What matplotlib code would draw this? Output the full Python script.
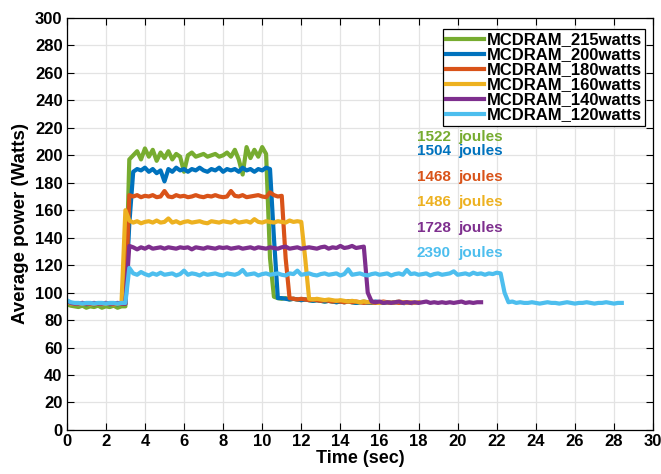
import numpy as np
import matplotlib
matplotlib.use('Agg')
import matplotlib.pyplot as plt

# power traces, one sample every 0.2 s starting at t=0
dt = 0.2

p215 = ([91.5, 90.5, 90, 89.5, 90.5, 89, 90, 89.5, 90.5, 89, 90, 89.5, 90.5, 89, 90, 90]
        + [197]
        + [200, 203, 197, 205, 199, 204, 196, 202, 198, 203, 197, 201, 199, 188, 200,
           202, 199, 200, 201, 199, 200, 201, 199, 200, 202, 199, 204, 197, 186, 206,
           198, 204, 199, 206, 201]
        + [125, 97]
        + [96, 95.5, 96, 95, 95.5, 95, 94.5, 95, 94.5, 94, 94.5, 94, 93.5, 94, 93.5, 93,
           93.5, 93, 93.5, 93, 92.5, 93, 93.5, 93, 92.5, 93, 93, 92.5, 93, 92.5, 93])

p200 = ([93, 92, 92, 91.5, 92, 91.5, 92, 91.5, 92, 91.5, 92, 91.5, 92, 91.5, 92, 92]
        + [150]
        + [188, 190, 189, 191, 188, 190, 187, 189, 181, 190, 188, 191, 189, 190, 188,
           190, 189, 191, 189, 188, 190, 189, 191, 188, 190, 189, 190, 188, 191, 189,
           190, 188, 190, 189, 191, 190]
        + [140, 96]
        + [96, 95.5, 95, 95.5, 95, 94.5, 95, 94.5, 94, 94.5, 94, 93.5, 94, 93.5, 93, 93.5,
           93, 93.5, 93, 92.5, 93, 93, 92.5, 93, 93.5, 93, 92.5, 93, 92.5, 93, 93, 92.5])

p180 = ([93.5, 92.5, 92, 92, 92.5, 92, 92, 91.5, 92, 92, 92.5, 92, 91.5, 92, 92, 92]
        + [171]
        + [170, 171, 169.5, 170.5, 170, 171, 169.5, 170, 174, 170, 169.5, 171, 170, 170.5,
           169.5, 170, 171, 170, 169.5, 170.5, 170, 171, 170, 169.5, 170, 174, 170.5, 170,
           171, 169.5, 170, 170.5, 171, 170, 169.5, 173, 171, 170, 170.5]
        + [125, 96]
        + [95.5, 95, 95.5, 95, 94.5, 95, 94.5, 94, 94.5, 94, 93.5, 94, 93.5, 93, 93.5, 93,
           93.5, 93, 92.5, 93, 93, 92.5, 93, 93.5, 93, 92.5, 93, 92.5, 93, 93, 92.5])

p160 = ([93, 92, 92, 91.5, 92, 92, 91.5, 92, 92, 91.5, 92, 92, 91.5, 92, 92]
        + [160]
        + [152.5, 151, 152, 150.5, 151.5, 152, 151, 152.5, 151, 151.5, 154, 151, 152, 150.5,
           151.5, 152, 151, 151.5, 152, 151, 150.5, 152, 151.5, 151, 152, 151.5, 151, 152.5,
           151, 151.5, 152, 151, 153.5, 151.5, 151, 152, 151.5, 151, 152, 151.5, 151, 152.5,
           151.5, 152, 151.5]
        + [125, 95.5]
        + [95, 95.5, 95, 94.5, 95, 94.5, 94, 94.5, 94, 93.5, 94, 93.5, 93, 93.5, 93, 93.5,
           93, 92.5, 93, 93, 92.5, 93, 93.5, 93, 92.5, 93, 92.5, 93])

p140 = ([94, 92.5, 92, 92, 92.5, 92, 92, 92.5, 92, 92, 92.5, 92, 92, 92.5, 92, 92]
        + [134]
        + [133, 131.5, 133, 132, 133.5, 132, 132.5, 133, 132, 133,
           132.5, 132, 133, 132.5, 133, 131.5, 133, 132.5, 132, 133,
           132.5, 132, 133, 132.5, 133, 132, 132.5, 133, 132, 132.5,
           133, 132, 133, 132.5, 132, 133, 132.5, 132, 133, 133.5,
           132, 132.5, 133, 132, 132.5, 133, 132.5, 132, 133, 133.5,
           132, 133, 132.5, 134, 132.5, 133, 134, 132.5, 133, 133.5]
        + [100, 93.5]
        + [93, 93.5, 92.5, 93, 92.5, 93, 93.5, 92.5, 93, 92.5, 93, 92.5, 93, 93.5, 92.5,
           93, 92.5, 93, 92.5, 93, 92.5, 93, 93.5, 92.5, 93, 92.5, 93, 93])

p120 = ([94.5, 93, 92.5, 92.5, 92, 92.5, 92.5, 92, 92.5, 92.5, 92, 92.5, 92.5, 92, 92.5, 92.5]
        + [118]
        + [114, 113, 115, 113.5, 112.5, 114, 113, 114.5, 113, 113.5,
           114, 112.5, 113.5, 116, 113, 114, 113.5, 112.5, 114, 113,
           113.5, 114, 113, 112.5, 114, 113.5, 113, 114, 116.5, 113,
           113.5, 114, 112.5, 113.5, 114, 113, 113.5, 114, 113, 112.5,
           114, 113.5, 116, 113, 113.5, 114, 113, 112.5, 113.5, 114,
           113, 113.5, 114, 112.5, 113.5, 117, 113, 113.5, 114, 113,
           112.5, 113.5, 114, 113, 113.5, 114, 112.5, 113.5, 114, 113,
           116.5, 113.5, 114, 113, 113.5, 114, 112.5, 113.5, 114, 113,
           113.5, 114, 115.5, 113, 113.5, 114, 113, 114.5, 113.5, 114,
           113, 114, 113.5, 114.5, 114]
        + [100, 93]
        + [93.5, 92.5, 93, 92.5, 92.5, 93, 92.5, 92, 92.5, 93, 92.5, 92.5, 92, 92.5, 93,
           92.5, 92, 92.5, 92.5, 93, 92.5, 92, 92.5, 92.5, 93, 92.5, 92, 92.5, 92.5])

labels = ['MCDRAM_215watts', 'MCDRAM_200watts', 'MCDRAM_180watts',
          'MCDRAM_160watts', 'MCDRAM_140watts', 'MCDRAM_120watts']
energy = [1522, 1504, 1468, 1486, 1728, 2390]
energy_y = [213, 203, 184, 166, 147, 129]
colors = ['#77AC30', '#0072BD', '#D95319', '#EDB120', '#7E2F8E', '#4DBEEE']

font = 'Liberation Sans'

fig = plt.figure(figsize=(6.61, 4.74), dpi=100)
ax = fig.add_axes([0.101, 0.093, 0.887, 0.869])

for p, lab, c in zip([p215, p200, p180, p160, p140, p120], labels, colors):
    t = np.arange(len(p)) * dt
    ax.plot(t, p, color=c, lw=3, label=lab)

for e, y, c in zip(energy, energy_y, colors):
    ax.text(17.9, y, str(e), color=c, fontsize=11, fontweight='bold',
            family=font, va='center')
    ax.text(20.05, y, 'joules', color=c, fontsize=11, fontweight='bold',
            family=font, va='center')

ax.set_xlim(0, 30)
ax.set_ylim(0, 300)
ax.set_xticks(np.arange(0, 31, 2))
ax.set_yticks(np.arange(0, 301, 20))
ax.grid(True, color='#e3e3e3', lw=0.9)
ax.set_axisbelow(True)
ax.tick_params(direction='in', top=True, right=True, length=5, width=0.8, pad=3)
for lab in ax.get_xticklabels() + ax.get_yticklabels():
    lab.set_fontfamily(font)
    lab.set_fontweight('bold')
    lab.set_fontsize(12)
for s in ax.spines.values():
    s.set_linewidth(0.9)

ax.set_xlabel('Time (sec)', fontsize=13, fontweight='bold', family=font, labelpad=1)
ax.set_ylabel('Average power (Watts)', fontsize=13.5, fontweight='bold',
              family=font, labelpad=4)

leg = ax.legend(loc='upper right', bbox_to_anchor=(0.995, 0.985), fancybox=False,
                edgecolor='black', framealpha=1, handlelength=2.3, handletextpad=0.15,
                labelspacing=0.0, borderpad=0.2, borderaxespad=0.3,
                prop={'family': font, 'weight': 'bold', 'size': 12})
leg.get_frame().set_linewidth(0.9)

fig.savefig('out.png', dpi=100)
